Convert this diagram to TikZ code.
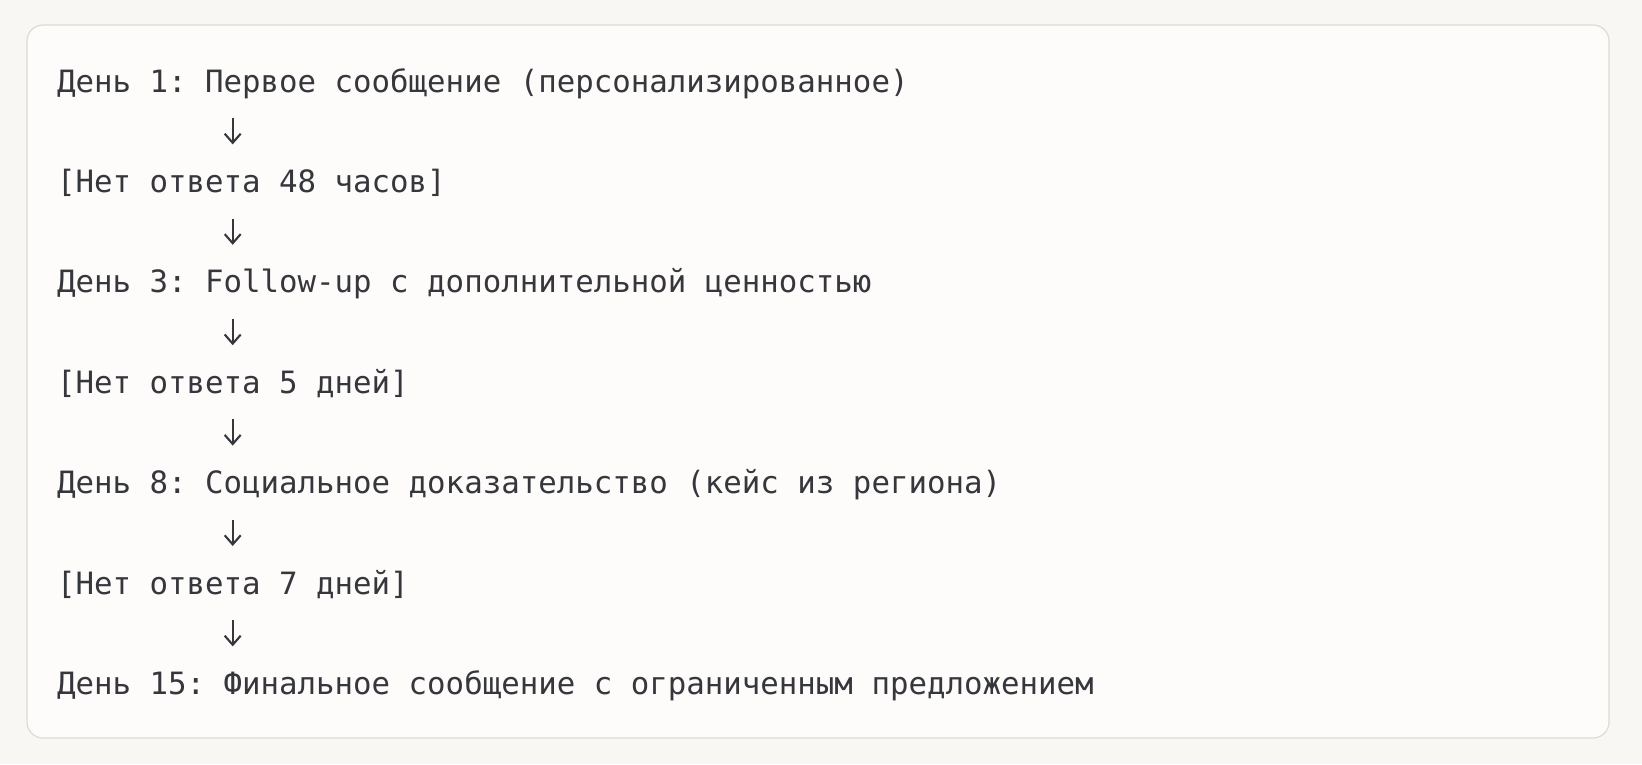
\documentclass[tikz,border=0pt]{standalone}
\usepackage{fontspec}
\newfontfamily\codefont{DejaVu Sans Mono}
\definecolor{pagebg}{HTML}{F8F7F4}
\definecolor{boxbg}{HTML}{FDFCFA}
\definecolor{boxline}{HTML}{DDDBD6}
\definecolor{codetext}{HTML}{36363D}
\begin{document}
\frenchspacing
\begin{tikzpicture}[x=1pt,y=-1pt,
  codeline/.style={anchor=base west,inner sep=0pt,outer sep=0pt,text=codetext,
    font=\codefont\fontsize{30.75}{30.75}\selectfont\frenchspacing},
  downarrow/.style={draw=codetext,line width=2.1pt}]
\useasboundingbox (0,0) rectangle (1642,764);
\fill[pagebg] (0,0) rectangle (1642,764);
\draw[boxline,fill=boxbg,line width=1.2pt,rounded corners=16pt] (27,25) rectangle (1609,738);
\def\lx{57}
\def\ax{232.7}
\node[codeline] (l1) at (\lx,92) {День 1: Первое сообщение (персонализированное)};
\node[codeline] (l2) at (\lx,192.4) {[Нет ответа 48 часов]};
\node[codeline] (l3) at (\lx,292.8) {День 3: Follow-up с дополнительной ценностью};
\node[codeline] (l4) at (\lx,393.2) {[Нет ответа 5 дней]};
\node[codeline] (l5) at (\lx,493.6) {День 8: Социальное доказательство (кейс из региона)};
\node[codeline] (l6) at (\lx,594) {[Нет ответа 7 дней]};
\node[codeline] (l7) at (\lx,694.4) {День 15: Финальное сообщение с ограниченным предложением};
\foreach \i/\b in {1/142.2,2/242.6,3/343,4/443.4,5/543.8,6/644.2}{
  \coordinate (t\i) at (\ax,\b-24);
  \coordinate (h\i) at (\ax,\b);
  \draw[downarrow] (t\i) -- (h\i);
  \draw[downarrow] ([xshift=-8pt,yshift=8.5pt]h\i) -- ([yshift=-0.6pt]h\i) -- ([xshift=8pt,yshift=8.5pt]h\i);
}
\end{tikzpicture}
\end{document}
